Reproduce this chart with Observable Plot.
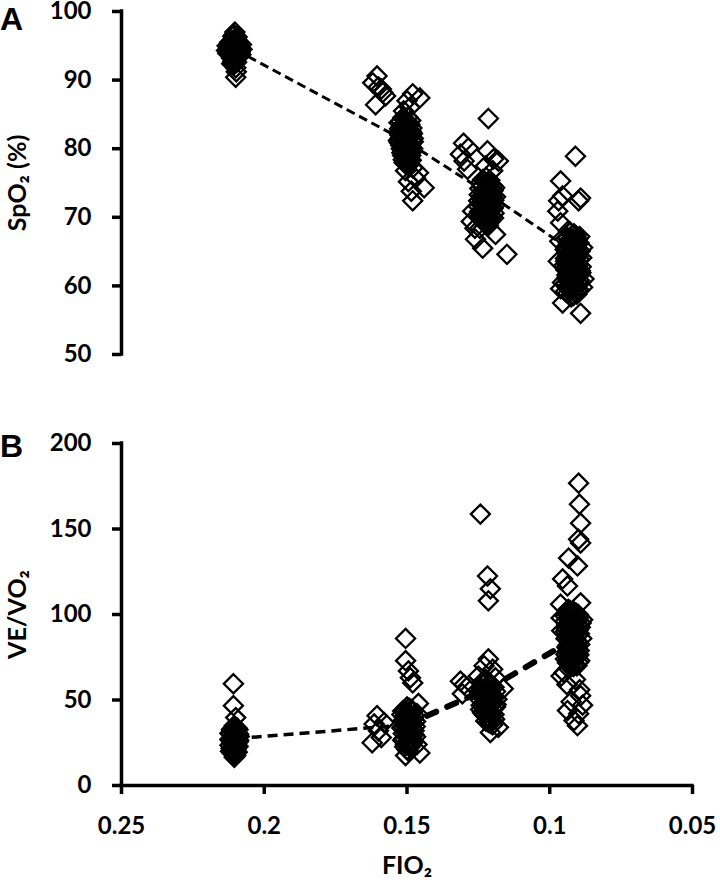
<!DOCTYPE html>
<html><head><meta charset="utf-8">
<script src="https://cdn.jsdelivr.net/npm/d3@7"></script>
<script src="https://cdn.jsdelivr.net/npm/@observablehq/plot@0.6"></script>
<style>
body{margin:0;background:#fff;}
#fig{position:relative;width:720px;height:886px;background:#fff;}
.panel{position:absolute;left:0;}
.tag{position:absolute;font-family:"Liberation Sans",Arial,sans-serif;font-weight:bold;font-size:32px;line-height:1;color:#000;}
</style></head><body>
<div id="fig">
  <div class="panel" id="pa" style="top:0"></div>
  <div class="panel" id="pb" style="top:380px"></div>
  <div class="tag" style="left:0;top:3px">A</div>
  <div class="tag" style="left:0;top:430px">B</div>
</div>
<script>
// ---------- axis ticks / labels ----------
const xTicks = [0.25, 0.2, 0.15, 0.1, 0.05];
const xTickLabels = ["0.25", "0.2", "0.15", "0.1", "0.05"];
const xDomain = [0.25, 0.05];
const yTicksA = [50, 60, 70, 80, 90, 100];
const yTicksB = [0, 50, 100, 150, 200];
const yLabelA = "SpO₂ (%)";
const yLabelB = "VE/VO₂";
const xLabel = "FIO₂";

// ---------- Panel A: SpO2 (%) vs FIO2, [FIO2, SpO2] ----------
const spo2At021 = [[0.2105,96.6],[0.2100,96.0],[0.2112,95.8],[0.2092,95.3],[0.2118,95.2],[0.2105,95.0],[0.2088,94.6],[0.2122,94.5],[0.2100,94.3],[0.2112,94.0],[0.2092,93.8],[0.2118,93.6],[0.2105,93.4],[0.2090,94.9],[0.2120,94.2],[0.2100,93.0],[0.2110,92.7],[0.2105,92.3],[0.2100,91.8],[0.2098,91.2],[0.2100,90.4],[0.2108,95.6],[0.2096,94.7],[0.2114,93.2],[0.2085,94.0],[0.2125,94.8],
  [0.2098,95.9],[0.2113,95.4],[0.2087,95.0],[0.2103,94.8],[0.2119,94.9],[0.2094,94.4],[0.2109,94.6],[0.2083,94.3],[0.2124,94.1],[0.2101,93.9],[0.2089,93.6],[0.2116,93.8],[0.2107,93.5],[0.2096,93.2],[0.2111,95.1],[0.2102,95.4],[0.2092,95.6],[0.2121,95.5],[0.2085,94.7],[0.2106,92.9],[0.2114,92.4],[0.2097,92.6],
  [0.2078,94.5],[0.2132,94.3],[0.2080,95.2],[0.2130,95.0],[0.2082,93.7],[0.2128,93.9],[0.2095,96.3],[0.2110,96.4],[0.2103,97.0]];
const spo2At016 = [[0.1605,90.6],[0.1620,89.6],[0.1590,88.7],[0.1610,86.4],[0.1575,87.7],[0.1600,89.0],[0.1585,88.2]];
const spo2At015 = [[0.1480,88.0],[0.1455,87.4],[0.1500,87.0],[0.1490,86.0],[0.1512,85.5],
  [0.1515,84.5],[0.1500,84.0],[0.1490,83.5],[0.1520,83.2],[0.1505,82.8],[0.1485,82.5],[0.1525,82.0],[0.1510,81.8],[0.1495,81.5],[0.1530,81.2],[0.1515,80.8],[0.1500,80.5],[0.1485,80.2],[0.1520,80.0],[0.1505,79.6],[0.1490,79.3],[0.1515,79.0],[0.1500,78.6],[0.1485,78.3],[0.1510,78.0],[0.1495,77.6],[0.1480,77.2],[0.1500,83.0],[0.1510,81.0],[0.1495,80.0],[0.1528,83.8],[0.1478,81.0],
  [0.1508,84.2],[0.1494,83.7],[0.1517,83.4],[0.1483,83.0],[0.1502,82.4],[0.1523,82.6],[0.1491,82.1],[0.1512,81.6],[0.1478,81.5],[0.1503,81.2],[0.1522,80.5],[0.1488,80.7],[0.1508,80.2],[0.1496,79.8],[0.1518,79.4],[0.1482,79.6],[0.1503,79.1],[0.1492,78.7],[0.1513,78.4],[0.1498,77.9],[0.1519,81.9],[0.1486,81.9],[0.1511,83.6],[0.1497,84.6],[0.1527,80.9],
  [0.1521,84.0],[0.1487,84.1],[0.1505,83.4],[0.1526,82.9],[0.1494,82.8],[0.1481,82.2],[0.1514,82.2],[0.1499,81.8],[0.1524,81.5],[0.1485,81.2],[0.1508,80.9],[0.1493,80.4],[0.1515,80.3],[0.1480,80.0],[0.1500,79.5],[0.1512,79.7],[0.1487,79.0],[0.1508,78.9],[0.1494,78.3],[0.1505,77.8],
  [0.1505,76.8],[0.1470,75.7],[0.1440,74.3],[0.1485,73.8],[0.1480,72.4],[0.1495,75.2],[0.1460,76.5]];
const spo2At013 = [[0.1302,80.8],[0.1313,79.2],[0.1285,80.1],[0.1288,77.0],[0.1300,78.2]];
const spo2At012 = [[0.1215,84.4],[0.1218,79.7],[0.1197,78.5],[0.1180,78.2],[0.1225,77.5],[0.1200,76.8],
  [0.1235,75.5],[0.1215,75.0],[0.1200,74.6],[0.1245,74.2],[0.1225,73.8],[0.1205,73.4],[0.1190,73.0],[0.1240,72.7],[0.1220,72.4],[0.1200,72.0],[0.1250,71.6],[0.1230,71.3],[0.1210,71.0],[0.1195,70.6],[0.1240,70.3],[0.1220,70.0],[0.1205,69.6],[0.1230,69.2],[0.1215,68.8],[0.1245,68.4],[0.1225,73.0],[0.1212,71.8],[0.1228,70.8],
  [0.1228,75.2],[0.1208,74.9],[0.1238,74.5],[0.1218,74.3],[0.1198,73.9],[0.1233,73.6],[0.1213,73.2],[0.1247,73.3],[0.1196,72.5],[0.1226,72.2],[0.1206,71.9],[0.1242,71.9],[0.1218,71.5],[0.1199,71.3],[0.1236,71.0],[0.1221,70.5],[0.1203,70.2],[0.1246,70.8],[0.1226,69.8],[0.1211,69.3],[0.1238,69.6],[0.1220,68.9],[0.1207,72.8],[0.1232,72.6],
  [0.1223,75.8],[0.1210,75.4],[0.1243,75.0],[0.1193,74.3],[0.1228,74.0],[0.1212,73.7],[0.1238,73.1],[0.1201,73.0],[0.1223,72.9],[0.1249,72.4],[0.1214,72.2],[0.1191,71.8],[0.1233,71.6],[0.1209,70.9],[0.1226,71.1],[0.1244,70.2],[0.1214,70.1],[0.1197,69.9],[0.1232,69.4],[0.1217,69.5],
  [0.1275,69.4],[0.1262,68.4],[0.1270,70.9],[0.1190,67.5],[0.1260,66.8],[0.1235,65.5],[0.1150,64.6]];
const spo2At009 = [[0.0910,78.9],[0.0962,75.3],[0.0892,72.8],[0.0969,72.4],[0.0899,72.4],[0.0972,70.9],[0.0962,69.2],[0.0955,73.1],
  [0.0935,68.0],[0.0915,67.6],[0.0895,67.2],[0.0945,66.8],[0.0925,66.4],[0.0905,66.0],[0.0885,65.6],[0.0940,65.2],[0.0920,64.8],[0.0900,64.4],[0.0945,64.0],[0.0925,63.6],[0.0905,63.2],[0.0890,62.8],[0.0935,62.4],[0.0915,62.0],[0.0895,61.6],[0.0940,61.2],[0.0920,60.8],[0.0900,60.4],[0.0935,60.0],[0.0915,59.6],[0.0945,59.2],[0.0905,58.8],[0.0925,58.4],[0.0955,60.5],[0.0880,61.0],[0.0950,63.0],[0.0885,59.8],
  [0.0928,67.8],[0.0908,67.3],[0.0938,67.0],[0.0918,66.7],[0.0898,66.3],[0.0930,66.0],[0.0912,65.5],[0.0942,65.7],[0.0893,65.1],[0.0925,65.0],[0.0908,64.6],[0.0937,64.5],[0.0918,64.1],[0.0897,63.9],[0.0930,63.8],[0.0912,63.3],[0.0941,63.2],[0.0922,62.7],[0.0902,62.3],[0.0933,62.0],[0.0910,61.3],[0.0928,61.5],[0.0891,61.9],[0.0943,62.3],[0.0918,60.6],[0.0905,60.0],[0.0932,59.5],[0.0913,59.1],[0.0897,59.4],[0.0926,66.9],[0.0915,64.2],
  [0.0921,67.4],[0.0903,66.8],[0.0935,66.3],[0.0913,66.1],[0.0946,65.3],[0.0899,64.9],[0.0931,64.8],[0.0911,64.4],[0.0888,64.1],[0.0944,63.6],[0.0921,63.4],[0.0903,62.9],[0.0938,62.8],[0.0917,62.3],[0.0893,62.2],[0.0927,61.9],[0.0906,61.4],[0.0940,61.6],[0.0920,61.0],[0.0896,60.8],[0.0930,60.5],[0.0911,60.2],[0.0944,60.4],[0.0922,59.8],[0.0902,59.2],[0.0937,58.9],[0.0917,58.6],
  [0.0970,63.6],[0.0962,59.6],[0.0965,66.5],[0.0955,57.5],[0.0892,56.0]];
const spo2Trend = [[0.21,94.4],[0.15,81.0],[0.12,73.0],[0.09,64.5]];

// ---------- Panel B: VE/VO2 vs FIO2, [FIO2, VE/VO2] ----------
const vevoAt021 = [[0.2108,59.5],[0.2108,46.7],[0.2100,39.7],
  [0.2105,35.0],[0.2095,33.5],[0.2115,32.5],[0.2100,31.5],[0.2120,30.5],[0.2090,30.0],[0.2110,29.0],[0.2100,28.0],[0.2120,27.0],[0.2090,26.5],[0.2110,25.5],[0.2100,24.5],[0.2120,23.5],[0.2092,23.0],[0.2110,22.0],[0.2100,21.0],[0.2118,20.0],[0.2095,19.5],[0.2108,18.5],[0.2100,17.5],[0.2105,16.5],[0.2112,26.0],[0.2098,29.5],
  [0.2102,34.0],[0.2112,33.2],[0.2092,32.6],[0.2107,31.2],[0.2096,30.8],[0.2117,30.0],[0.2103,29.3],[0.2088,28.6],[0.2113,28.0],[0.2098,27.4],[0.2119,26.6],[0.2104,26.0],[0.2091,25.6],[0.2114,24.8],[0.2099,24.0],[0.2108,23.2],[0.2094,22.4],[0.2116,21.6],[0.2103,20.6],[0.2097,19.8],[0.2112,19.0],[0.2102,18.0],[0.2107,32.0],[0.2095,28.8]];
const vevoAt016 = [[0.1605,40.8],[0.1615,36.0],[0.1580,36.8],[0.1622,25.0],[0.1590,28.0],[0.1600,32.0]];
const vevoAt015 = [[0.1505,86.0],[0.1505,73.0],[0.1488,63.0],[0.1480,60.0],[0.1495,67.0],
  [0.1500,46.0],[0.1485,44.5],[0.1515,43.5],[0.1495,42.0],[0.1475,41.0],[0.1510,40.0],[0.1490,38.5],[0.1470,37.5],[0.1505,36.5],[0.1485,35.5],[0.1515,34.5],[0.1495,33.0],[0.1475,32.0],[0.1505,31.0],[0.1490,29.5],[0.1470,28.5],[0.1510,27.5],[0.1495,26.0],[0.1480,25.0],[0.1505,24.0],[0.1490,22.5],[0.1500,21.0],[0.1485,39.5],[0.1500,34.0],[0.1480,30.0],
  [0.1493,45.2],[0.1508,44.0],[0.1480,43.2],[0.1500,42.6],[0.1518,41.5],[0.1487,40.7],[0.1503,39.3],[0.1478,38.8],[0.1513,38.0],[0.1496,37.0],[0.1482,36.2],[0.1508,35.6],[0.1490,34.6],[0.1518,33.6],[0.1480,33.3],[0.1502,32.4],[0.1493,31.3],[0.1513,30.4],[0.1476,29.8],[0.1500,28.7],[0.1485,27.2],[0.1515,26.4],[0.1498,25.3],[0.1488,23.6],[0.1508,22.6],[0.1495,20.2],[0.1510,37.8],[0.1471,34.5],
  [0.1505,17.5],[0.1455,19.0],[0.1465,24.0],[0.1460,48.0],[0.1465,42.0]];
const vevoAt013 = [[0.1313,61.0],[0.1306,53.6],[0.1290,57.5],[0.1300,59.0]];
const vevoAt012 = [[0.1243,158.7],[0.1218,122.5],[0.1208,115.0],[0.1215,108.0],[0.1215,74.0],[0.1230,70.0],[0.1200,68.0],
  [0.1225,62.0],[0.1240,60.0],[0.1210,59.0],[0.1195,57.5],[0.1230,56.5],[0.1245,55.0],[0.1215,54.0],[0.1200,52.5],[0.1235,51.5],[0.1185,50.5],[0.1220,49.5],[0.1205,48.0],[0.1240,47.0],[0.1190,46.0],[0.1225,45.0],[0.1210,43.5],[0.1235,42.5],[0.1195,41.5],[0.1220,40.0],[0.1205,38.5],[0.1215,37.0],[0.1200,35.5],[0.1230,53.0],[0.1212,44.0],[0.1250,64.0],[0.1190,63.0],
  [0.1218,61.2],[0.1233,59.3],[0.1202,58.4],[0.1222,57.2],[0.1240,56.8],[0.1208,55.6],[0.1190,55.0],[0.1226,54.6],[0.1245,53.4],[0.1212,52.8],[0.1196,51.6],[0.1230,50.7],[0.1216,49.0],[0.1242,49.8],[0.1200,48.8],[0.1225,47.7],[0.1188,47.4],[0.1210,46.4],[0.1235,45.8],[0.1198,44.6],[0.1220,43.0],[0.1242,44.4],[0.1205,41.8],[0.1228,41.2],[0.1212,39.3],[0.1193,38.8],[0.1224,37.7],[0.1208,36.4],
  [0.1163,56.6],[0.1208,31.0],[0.1180,34.0]];
const vevoAt009 = [[0.0899,176.8],[0.0896,164.5],[0.0892,153.4],[0.0899,144.0],[0.0892,141.8],[0.0934,133.0],[0.0903,128.4],[0.0955,120.8],[0.0938,116.7],[0.0962,106.0],[0.0892,106.8],
  [0.0935,103.0],[0.0915,101.5],[0.0900,100.0],[0.0945,99.0],[0.0925,97.5],[0.0905,96.0],[0.0890,95.0],[0.0940,94.0],[0.0920,92.5],[0.0900,91.0],[0.0945,90.0],[0.0925,88.5],[0.0905,87.5],[0.0888,86.0],[0.0935,85.0],[0.0915,83.5],[0.0895,82.5],[0.0940,81.0],[0.0920,80.0],[0.0900,78.5],[0.0930,77.0],[0.0910,75.5],[0.0945,74.0],[0.0895,73.0],[0.0925,71.5],[0.0905,70.0],[0.0935,68.5],[0.0960,98.0],[0.0958,90.5],[0.0885,97.0],
  [0.0928,102.2],[0.0908,100.8],[0.0940,100.5],[0.0918,99.2],[0.0897,98.6],[0.0933,97.2],[0.0912,96.6],[0.0945,96.2],[0.0923,95.3],[0.0902,94.2],[0.0935,93.0],[0.0915,92.0],[0.0893,92.6],[0.0942,91.6],[0.0928,90.6],[0.0908,89.6],[0.0938,88.0],[0.0918,87.1],[0.0896,88.8],[0.0930,86.2],[0.0910,85.6],[0.0943,85.8],[0.0925,83.8],[0.0903,84.2],[0.0935,82.2],[0.0913,81.6],[0.0928,79.2],[0.0906,80.6],[0.0940,78.2],[0.0918,77.6],[0.0898,76.4],[0.0932,75.2],[0.0915,73.5],[0.0938,71.8],[0.0912,70.5],[0.0927,69.2],
  [0.0922,82.8],[0.0905,82.0],[0.0937,80.2],[0.0915,79.6],[0.0897,79.0],[0.0931,78.6],[0.0910,77.8],[0.0943,76.6],[0.0923,76.2],[0.0903,75.4],[0.0934,74.2],[0.0919,72.6],[0.0900,71.9],[0.0930,71.0],[0.0917,69.6],[0.0935,73.3],
  [0.0960,64.0],[0.0910,62.0],[0.0940,59.0],[0.0895,56.0],[0.0892,52.5],[0.0925,49.0],[0.0938,43.8],[0.0899,42.0],[0.0915,38.0],[0.0903,35.0],[0.0885,47.0],[0.0950,66.0]];
const vevoTrendThin = [[0.21,27.4],[0.15,35.5]];
const vevoTrendThick = [[0.15,35.5],[0.12,58.0],[0.09,87.0]];

// ---------- build ----------
const toRows = (groups) => groups.flatMap(g => g.map(([f, v]) => ({fio2: f, v})));
const spo2Rows = toRows([spo2At021, spo2At016, spo2At015, spo2At013, spo2At012, spo2At009]);
const vevoRows = toRows([vevoAt021, vevoAt016, vevoAt015, vevoAt013, vevoAt012, vevoAt009]);
const trendRows = (t) => t.map(([f, v]) => ({fio2: f, v}));

const baseStyle = {fontFamily: "Lato, 'Open Sans', sans-serif", fontWeight: "bold", fontSize: "24px", color: "#000", background: "#fff", overflow: "visible"};
const dotOpts = {x: "fio2", y: "v", symbol: "diamond2", r: 8.6, stroke: "#000", strokeWidth: 2.3, fill: "none"};
const yLabelOpts = {text: d => d, frameAnchor: "left", textAnchor: "middle", rotate: -90, dx: -104, fontSize: 25, fontWeight: "bold"};

const plotA = Plot.plot({
  width: 720, height: 380,
  marginTop: 11, marginBottom: 26, marginLeft: 121, marginRight: 28,
  style: baseStyle,
  x: {domain: xDomain, axis: null},
  y: {domain: [yTicksA[0], yTicksA[yTicksA.length - 1]]},
  marks: [
    Plot.line(trendRows(spo2Trend), {x: "fio2", y: "v", stroke: "#000", strokeWidth: 3, strokeDasharray: "9,5", strokeLinecap: "butt"}),
    Plot.dot(spo2Rows, dotOpts),
    Plot.ruleX([xDomain[0]], {y1: yTicksA[0], y2: yTicksA[yTicksA.length - 1], stroke: "#000", strokeWidth: 3.5, strokeLinecap: "square"}),
    Plot.axisY({ticks: yTicksA, tickSize: 9, tickPadding: 21, strokeWidth: 3.5, label: null, fontSize: 24}),
    Plot.text([yLabelA], yLabelOpts)
  ]
});

const plotB = Plot.plot({
  width: 720, height: 506,
  marginTop: 63, marginBottom: 101, marginLeft: 121, marginRight: 28,
  style: baseStyle,
  x: {domain: xDomain},
  y: {domain: [yTicksB[0], yTicksB[yTicksB.length - 1]]},
  marks: [
    Plot.line(trendRows(vevoTrendThin), {x: "fio2", y: "v", stroke: "#000", strokeWidth: 3.5, strokeDasharray: "10,6", strokeLinecap: "butt"}),
    Plot.line(trendRows(vevoTrendThick), {x: "fio2", y: "v", stroke: "#000", strokeWidth: 6, strokeDasharray: "10,12", strokeLinecap: "round"}),
    Plot.dot(vevoRows, dotOpts),
    Plot.ruleX([xDomain[0]], {y1: yTicksB[0], y2: yTicksB[yTicksB.length - 1], stroke: "#000", strokeWidth: 3.5, strokeLinecap: "square"}),
    Plot.ruleY([yTicksB[0]], {x1: xDomain[0], x2: xDomain[1], stroke: "#000", strokeWidth: 3.5, strokeLinecap: "square"}),
    Plot.axisY({ticks: yTicksB, tickSize: 9, tickPadding: 21, strokeWidth: 3.5, label: null, fontSize: 24}),
    Plot.axisX({ticks: xTicks, tickFormat: d => xTickLabels[xTicks.indexOf(d)], tickSize: 9, tickPadding: 22, strokeWidth: 3.5, label: null, fontSize: 24}),
    Plot.text([yLabelB], yLabelOpts),
    Plot.text([xLabel], {text: d => d, frameAnchor: "bottom", dy: 88, fontSize: 25, fontWeight: "bold"})
  ]
});

document.getElementById("pa").appendChild(plotA);
document.getElementById("pb").appendChild(plotB);
</script>
</body></html>
